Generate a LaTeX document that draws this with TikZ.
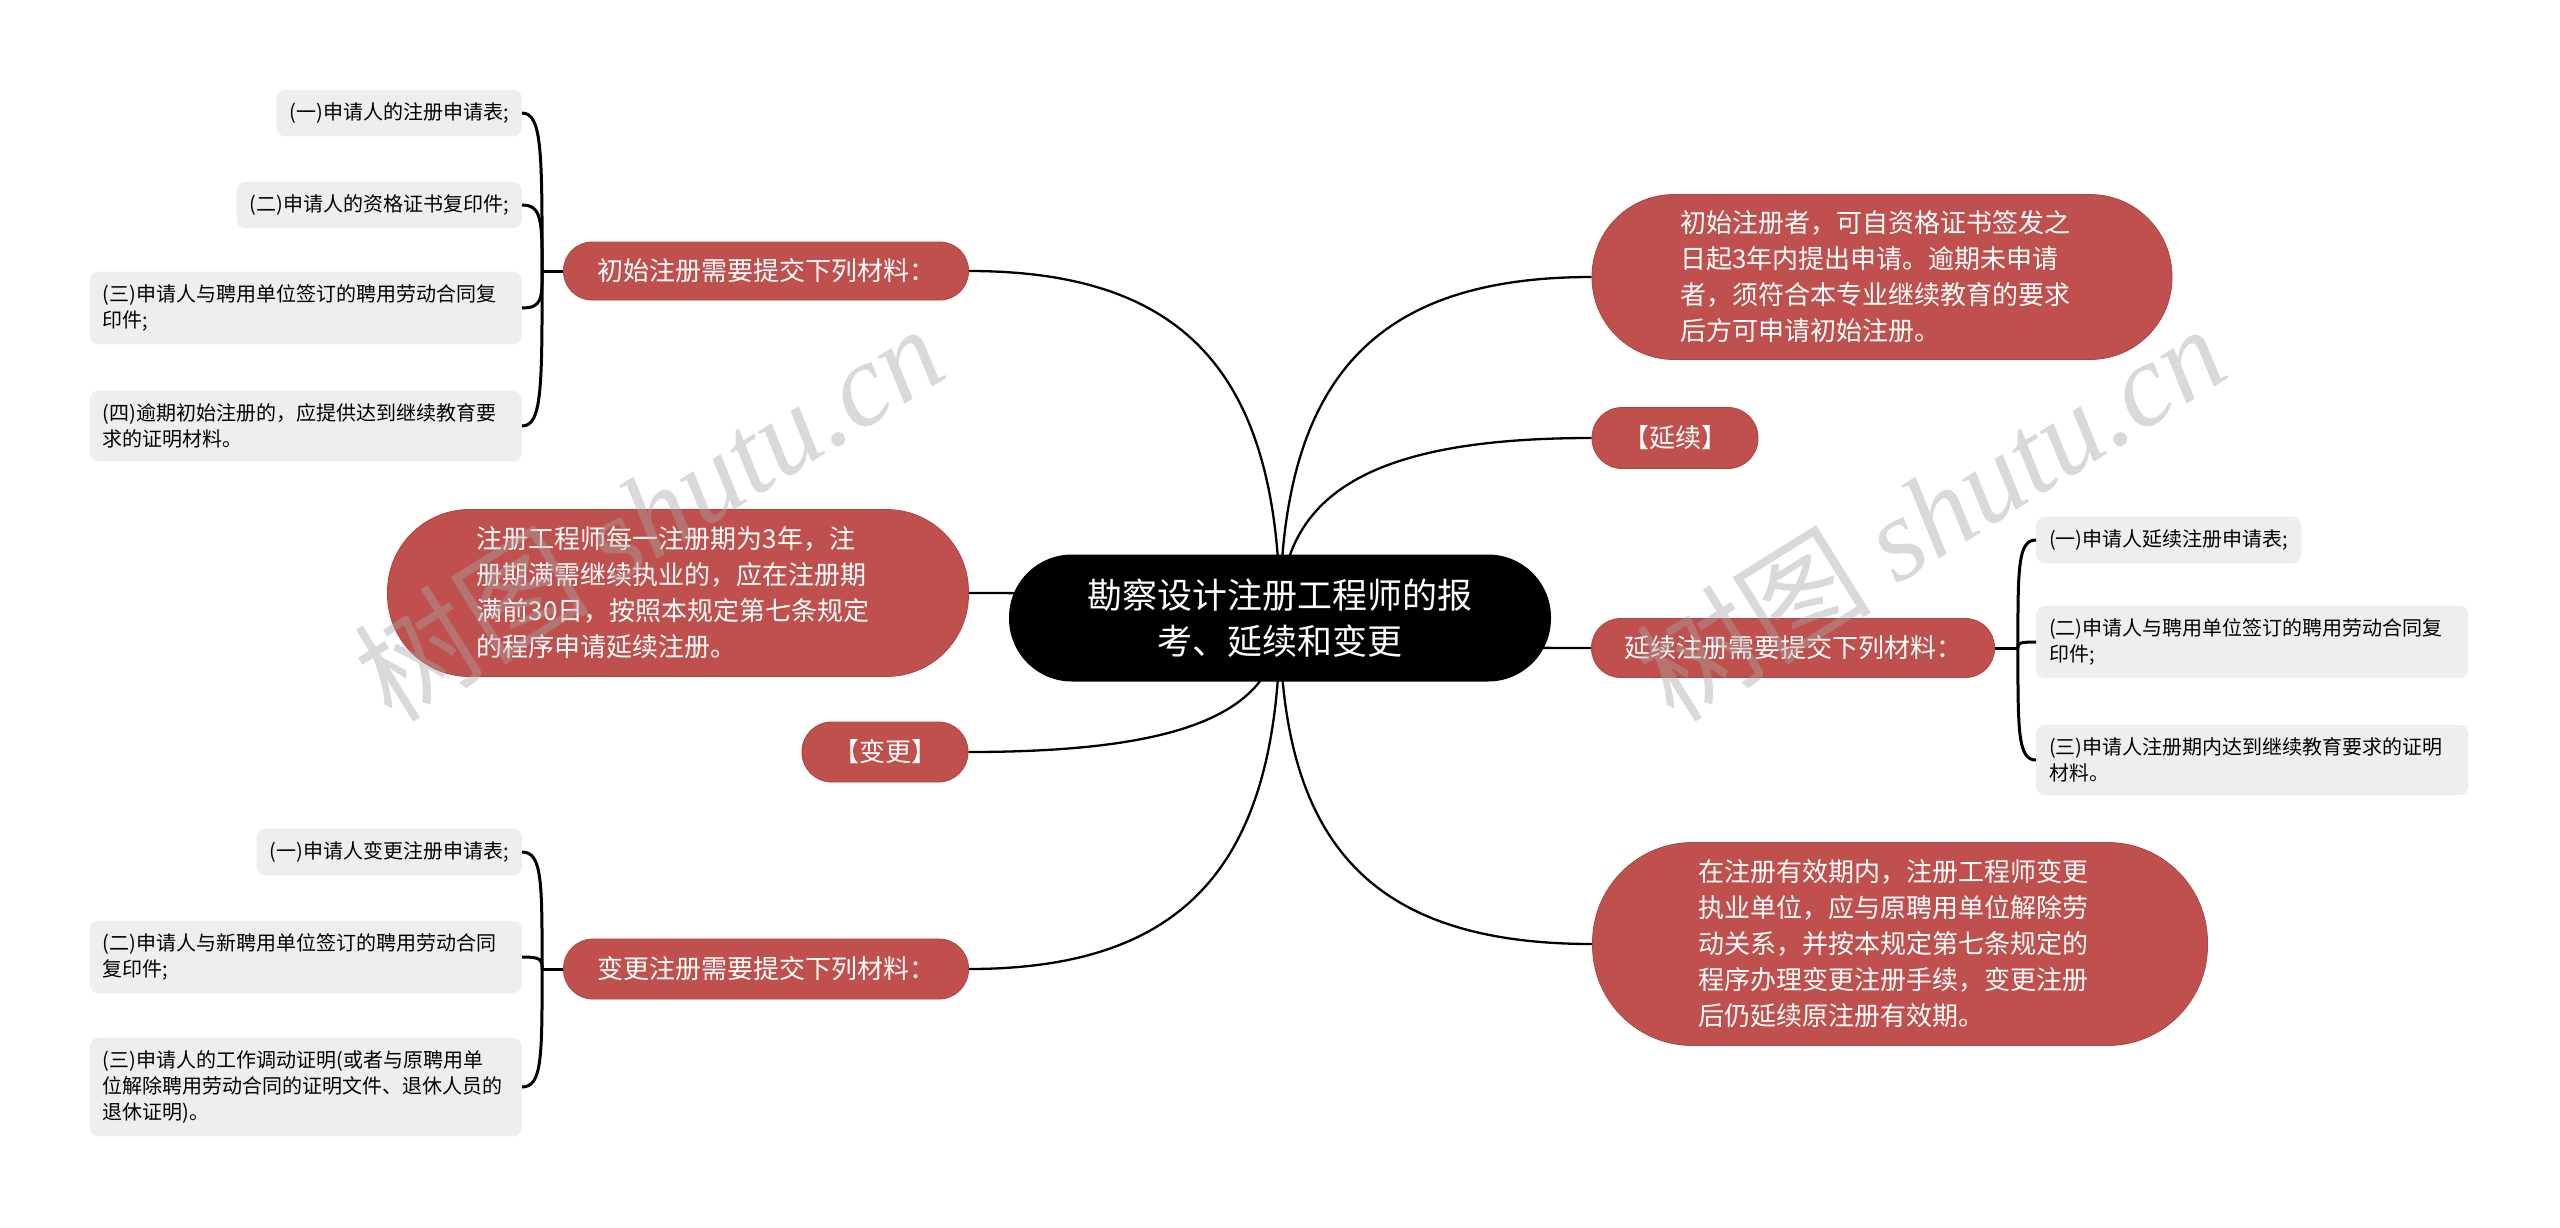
\documentclass[tikz,border=0pt]{standalone}
\usepackage{fontspec}
\setmainfont{Noto Sans CJK SC}
\newfontfamily\wmfont{Liberation Serif}
\usepackage{tikz}
\usetikzlibrary{
	calc,
	positioning,
	backgrounds
	}
\definecolor{rouge}{HTML}{C0504D}
\definecolor{gris}{HTML}{EEEEEE}
\definecolor{filigrane}{HTML}{A6A6A6}
\tikzstyle{noeud-racine}=[fill=black,text=white,rounded corners=63pt,minimum width=542pt,minimum height=127pt,inner sep=0pt,align=center,font={\fontsize{35pt}{46pt}\selectfont}]
\tikzstyle{noeud-cat}=[fill=rouge,draw=rouge!88!black,line width=0.8pt,text=white,inner sep=0pt,align=left,font={\fontsize{26pt}{36pt}\selectfont}]
\tikzstyle{noeud-feuille}=[fill=gris,rounded corners=9pt,inner sep=13pt,align=left,font={\fontsize{20pt}{26pt}\selectfont}]
\tikzstyle{lien}=[line width=2.3pt]
\tikzstyle{accolade}=[line width=3pt]
\tikzstyle{noeud-filigrane}=[text=filigrane,opacity=0.42,rotate=32,font={\fontsize{118pt}{126pt}\selectfont}]

\begin{document}
\begin{tikzpicture}[x=1pt,y=-1pt]
            \useasboundingbox (0,0) rectangle (2560,1227);
            \node[noeud-racine] (n1) at (1280,618) {勘察设计注册工程师的报\\考、延续和变更};
            %
            \node[noeud-cat, minimum width=405pt, minimum height=58pt, rounded corners=28.5pt] (n2-ini) at (766,271) {初始注册需要提交下列材料：};
            \node[noeud-cat, minimum width=581pt, minimum height=167pt, rounded corners=82pt] (n2-p3) at (678,593) {\hspace*{-10pt}注册工程师每一注册期为3年，注\\\hspace*{-10pt}册期满需继续执业的，应在注册期\\\hspace*{-10pt}满前30日，按照本规定第七条规定\\\hspace*{-10pt}的程序申请延续注册。};
            \node[noeud-cat, minimum width=166pt, minimum height=60pt, rounded corners=29.5pt] (n2-chg) at (885,752) {【变更】};
            \node[noeud-cat, minimum width=405pt, minimum height=60pt, rounded corners=29.5pt] (n2-chgm) at (766,969) {变更注册需要提交下列材料：};
            %
            \node[noeud-cat, minimum width=580pt, minimum height=165pt, rounded corners=82pt] (n2-p1) at (1882,277) {\hspace*{-14pt}初始注册者，可自资格证书签发之\\\hspace*{-14pt}日起3年内提出申请。逾期未申请\\\hspace*{-14pt}者，须符合本专业继续教育的要求\\\hspace*{-14pt}后方可申请初始注册。};
            \node[noeud-cat, minimum width=166pt, minimum height=61pt, rounded corners=30pt] (n2-ext) at (1675,438) {【延续】};
            \node[noeud-cat, minimum width=403pt, minimum height=59pt, rounded corners=29pt] (n2-ren) at (1793,648) {延续注册需要提交下列材料：};
            \node[noeud-cat, minimum width=615pt, minimum height=203pt, rounded corners=100pt] (n2-p2) at (1900,944) {\hspace*{-14pt}在注册有效期内，注册工程师变更\\\hspace*{-14pt}执业单位，应与原聘用单位解除劳\\\hspace*{-14pt}动关系，并按本规定第七条规定的\\\hspace*{-14pt}程序办理变更注册手续，变更注册\\\hspace*{-14pt}后仍延续原注册有效期。};

            % feuilles
            \node[noeud-feuille, anchor=east] (n3-ini-1) at (522,113) {(一)申请人的注册申请表;};
            \node[noeud-feuille, anchor=east] (n3-ini-2) at (522,205) {(二)申请人的资格证书复印件;};
            \node[noeud-feuille, anchor=east, text width=406pt] (n3-ini-3) at (522,308) {(三)申请人与聘用单位签订的聘用劳动合同复\\印件;};
            \node[noeud-feuille, anchor=east, text width=406pt] (n3-ini-4) at (522,426) {(四)逾期初始注册的，应提供达到继续教育要\\求的证明材料。};

            \node[noeud-feuille, anchor=west] (n3-ren-1) at (2036,540) {(一)申请人延续注册申请表;};
            \node[noeud-feuille, anchor=west, text width=406pt] (n3-ren-2) at (2036,642) {(二)申请人与聘用单位签订的聘用劳动合同复\\印件;};
            \node[noeud-feuille, anchor=west, text width=406pt] (n3-ren-3) at (2036,760) {(三)申请人注册期内达到继续教育要求的证明\\材料。};

            \node[noeud-feuille, anchor=east] (n3-chg-1) at (522,852) {(一)申请人变更注册申请表;};
            \node[noeud-feuille, anchor=east, text width=406pt] (n3-chg-2) at (522,957) {(二)申请人与新聘用单位签订的聘用劳动合同\\复印件;};
            \node[noeud-feuille, anchor=east, text width=406pt] (n3-chg-3) at (522,1087) {(三)申请人的工作调动证明(或者与原聘用单\\位解除聘用劳动合同的证明文件、退休人员的\\退休证明)。};

            \coordinate (j-ini) at ($(n2-ini.west)+(-21,0)$);
            \coordinate (j-ren) at ($(n2-ren.east)+(23,0)$);
            \coordinate (j-chg) at ($(n2-chgm.west)+(-21,0)$);

            \begin{scope}[on background layer]
            \fill[white] (0,0) rectangle (2560,1227);
            \foreach \n in {n2-ini,n2-p3,n2-chg,n2-chgm}
               \draw[lien] (n1.center) .. controls ($(n1.center)!0.7!(n1.center|-\n.east)$) and ($(\n.east)!0.7!(n1.center|-\n.east)$) .. (\n.east);
            \foreach \n in {n2-p1,n2-ext,n2-ren,n2-p2}
               \draw[lien] (n1.center) .. controls ($(n1.center)!0.7!(n1.center|-\n.west)$) and ($(\n.west)!0.7!(n1.center|-\n.west)$) .. (\n.west);
            \end{scope}

            \draw[accolade] (n2-ini.west) -- (j-ini);
            \foreach \n in {n3-ini-1,n3-ini-2,n3-ini-3,n3-ini-4}
               \draw[accolade] (j-ini) .. controls ($(j-ini)!0.75!(j-ini|-\n.east)$) and (j-ini|-\n.east) .. (\n.east);
            \draw[accolade] (n2-ren.east) -- (j-ren);
            \foreach \n in {n3-ren-1,n3-ren-2,n3-ren-3}
               \draw[accolade] (j-ren) .. controls ($(j-ren)!0.75!(j-ren|-\n.west)$) and (j-ren|-\n.west) .. (\n.west);
            \draw[accolade] (n2-chgm.west) -- (j-chg);
            \foreach \n in {n3-chg-1,n3-chg-2,n3-chg-3}
               \draw[accolade] (j-chg) .. controls ($(j-chg)!0.75!(j-chg|-\n.east)$) and (j-chg|-\n.east) .. (\n.east);

            \node[noeud-filigrane] (wm1) at (648,512) {树图 {\wmfont\itshape shutu.cn}};
            \node[noeud-filigrane] (wm2) at (1930,512) {树图 {\wmfont\itshape shutu.cn}};
\end{tikzpicture}
\end{document}
